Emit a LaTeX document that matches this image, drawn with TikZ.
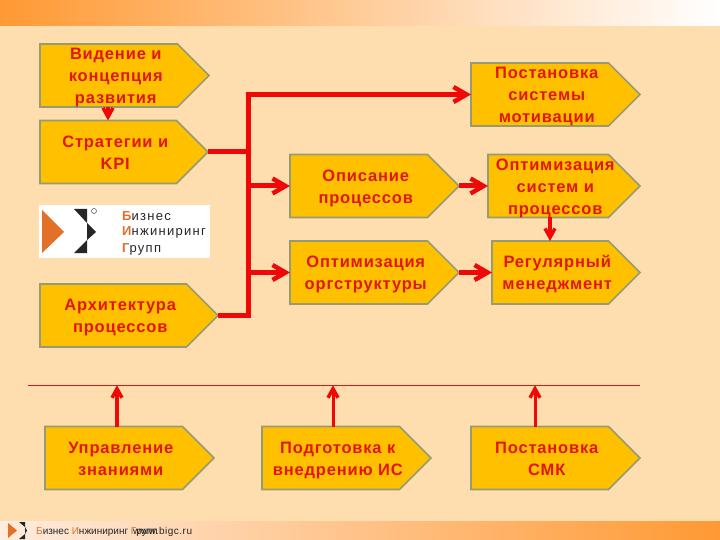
\documentclass[tikz,border=0pt]{standalone}
\usepackage{fontspec}
\setmainfont{Liberation Sans}
\newfontfamily\boxfont[LetterSpace=5]{Liberation Sans}
\newfontfamily\logofont[LetterSpace=10]{Liberation Sans}
\newfontfamily\footfont[LetterSpace=5]{Liberation Sans}
\usepackage{xcolor}
\definecolor{pagebg}{RGB}{254, 222, 175}
\definecolor{bandorange}{RGB}{255, 153, 51}
\definecolor{bandpink}{RGB}{255, 208, 184}
\definecolor{bandpale}{RGB}{255, 236, 222}
\definecolor{boxgold}{RGB}{255, 192, 0}
\definecolor{boxedge}{RGB}{150, 155, 115}
\definecolor{linkred}{RGB}{238, 8, 8}
\definecolor{rulered}{RGB}{235, 20, 10}
\definecolor{textred}{RGB}{226, 22, 4}
\definecolor{logoorange}{RGB}{226, 112, 40}
\usetikzlibrary{shapes.symbols, arrows.meta, positioning, calc}
\newcommand{\boxlines}[1]{\raisebox{-6pt}[0pt][0pt]{\makebox[0pt]{\hspace*{14pt}\begin{tabular}{@{}c@{}}#1\end{tabular}}}}

\begin{document}
\begin{tikzpicture}[x=1pt, y=-1pt,
      stepbox/.style={signal, signal to=east, signal pointer angle=90, anchor=west, draw=boxedge, line width=1.6pt, fill=boxgold, text=textred, font=\fontsize{16.5}{22}\boxfont\bfseries, minimum height=63pt, inner sep=0pt, outer sep=0pt},
      bus/.style={linkred, line width=5pt},
      arr/.style={-{Straight Barb[length=13pt, width=15pt, line width=4.5pt]}, linkred, line width=5pt},
      uparr/.style={-{Straight Barb[length=9pt, width=10pt, line width=3.5pt]}, linkred, line width=3.5pt},
      logotext/.style={anchor=west, inner sep=0pt, font=\fontsize{13}{14}\logofont, text=black!85},
      foottext/.style={anchor=west, inner sep=0pt, font=\fontsize{10}{11}\selectfont, text=black!85}
  ]
    \useasboundingbox (0,0) rectangle (720,540);
    \fill[pagebg] (0,0) rectangle (720,540);
    \shade[left color=bandorange, middle color=bandpink, right color=white] (0,0) rectangle (720,26);
    \shade[left color=bandpale, middle color=bandpink, right color=bandorange] (0,521) rectangle (720,540);

    % Left column
    \node[stepbox, minimum width=169pt] (vision) at (40,75.5) {\boxlines{Видение и\\концепция\\развития}};
    \node[stepbox, minimum width=168pt] (strategy) at (40,152) {\boxlines{Стратегии и\\KPI}};
    \node[stepbox, minimum width=178pt] (arch) at (40,315.5) {\boxlines{Архитектура\\процессов}};

    % Middle column
    \node[stepbox, minimum width=169pt] (descr) at (290,186) {\boxlines{Описание\\процессов}};
    \node[stepbox, minimum width=169pt] (orgopt) at (290,272.5) {\boxlines{Оптимизация\\оргструктуры}};

    % Right column
    \node[stepbox, minimum width=169pt] (motiv) at (471,94.5) {\boxlines{Постановка\\системы\\мотивации}};
    \node[stepbox, minimum width=152pt] (sysopt) at (488,186) {\boxlines{Оптимизация\\систем и\\процессов}};
    \node[stepbox, minimum width=148pt] (regular) at (492,272.5) {\boxlines{Регулярный\\менеджмент}};

    % Bottom row
    \node[stepbox, minimum width=169pt] (know) at (45,458) {\boxlines{Управление\\знаниями}};
    \node[stepbox, minimum width=169pt] (prep) at (262,458) {\boxlines{Подготовка к\\внедрению ИС}};
    \node[stepbox, minimum width=169pt] (smk) at (471,458) {\boxlines{Постановка\\СМК}};

    % Logo
    \fill[white] (39,205) rectangle (210,258);
    \fill[logoorange] (42,210) -- (64,232) -- (42,253) -- cycle;
    \fill[black!85] (74,209) -- (87,209) -- (87,223) -- cycle;
    \fill[black!85] (87,223) -- (96,232) -- (87,240) -- cycle;
    \fill[black!85] (74,253) -- (87,253) -- (87,240) -- cycle;
    \draw[black!70, line width=0.5pt] (94,211) circle (2.5pt);
    \node[logotext] (logo1) at (122,216) {\textcolor{logoorange}{\bfseries Б}изнес};
    \node[logotext] (logo2) at (122,232.5) {\textcolor{logoorange}{\bfseries И}нжиниринг};
    \node[logotext] (logo3) at (122,249) {\textcolor{logoorange}{\bfseries Г}рупп};

    % Footer
    \fill[logoorange] (8,523) -- (17,530.5) -- (8,538) -- cycle;
    \fill[black!85] (19,522) -- (25,522) -- (25,527) -- cycle;
    \fill[black!85] (25,527) -- (27,530.5) -- (25,534) -- cycle;
    \fill[black!85] (19,539) -- (25,539) -- (25,534) -- cycle;
    \node[foottext] (foot1) at (36,532) {\textcolor{logoorange}{Б}изнес \textcolor{logoorange}{И}нжиниринг \textcolor{logoorange}{Г}рупп};
    \node[foottext] (foot2) at (133,532) {\footfont www.bigc.ru};

    % Connections
    \coordinate (busx) at (248,152);
    \draw[bus] (arch.east) -- (busx |- arch.east) -- (busx |- motiv.west) -- +(3,0);
    \draw[arr] (busx |- motiv.west) -- (motiv.west);
    \draw[bus] (strategy.east) -- (busx);
    \draw[arr] (busx |- descr.west) -- (descr.west);
    \draw[arr] (busx |- orgopt.west) -- (orgopt.west);
    \draw[arr] (descr.east) -- (sysopt.west);
    \draw[arr] (orgopt.east) -- (regular.west);
    \coordinate (dropa) at (108,120);
    \coordinate (dropb) at (550,241);
    \draw[uparr] (dropa |- vision.south) -- (dropa |- strategy.north);
    \draw[uparr] (dropb |- sysopt.south) -- (dropb |- regular.north);

    % Rule and arrows up to it
    \coordinate (rulel) at (28,385.2);
    \coordinate (ruler) at (640,385.2);
    \draw[rulered, line width=1.1pt] (rulel) -- (ruler);
    \coordinate (upa) at (117,385.2);
    \coordinate (upb) at (333,385.2);
    \coordinate (upc) at (535,385.2);
    \draw[uparr] (upa |- know.north) -- (upa);
    \draw[uparr, line width=3pt] (upb |- prep.north) -- (upb);
    \draw[uparr, line width=3pt] (upc |- smk.north) -- (upc);
  \end{tikzpicture}
\end{document}
